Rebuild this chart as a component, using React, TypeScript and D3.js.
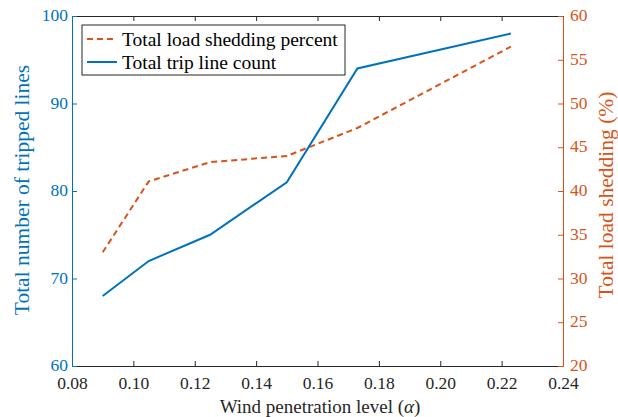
import React, { useEffect, useRef } from 'react';
import * as d3 from 'd3';

// Wind penetration levels and both series
const windLevels = [0.09, 0.105, 0.125, 0.15, 0.173, 0.223];
const tripLineCount = [68, 72, 75, 81, 94, 98];
const loadSheddingPercent = [33, 41.1, 43.3, 44, 47.2, 56.5];

const xTicks = [0.08, 0.1, 0.12, 0.14, 0.16, 0.18, 0.2, 0.22, 0.24];
const leftTicks = [60, 70, 80, 90, 100];
const rightTicks = [20, 25, 30, 35, 40, 45, 50, 55, 60];

const BLUE = '#0072BD';
const ORANGE = '#D95319';
const GREY = '#262626';
const FONT = 'Times New Roman, Times, Tinos, Liberation Serif, Noto Serif, DejaVu Serif, serif';

function App() {
  const svgRef = useRef<SVGSVGElement>(null);

  useEffect(() => {
    const svg = d3.select(svgRef.current);
    svg.selectAll('*').remove();

    const width = 618;
    const height = 417;
    const margin = { top: 16, right: 55, bottom: 51, left: 72 };
    const innerW = width - margin.left - margin.right;
    const innerH = height - margin.top - margin.bottom;

    const g = svg.append('g').attr('transform', `translate(${margin.left},${margin.top})`);

    const x = d3.scaleLinear().domain([0.08, 0.24]).range([0, innerW]);
    const yL = d3.scaleLinear().domain([60, 100]).range([innerH, 0]);
    const yR = d3.scaleLinear().domain([20, 60]).range([innerH, 0]);

    const tickLen = 5;
    const tickFont = 17.5;

    // bottom axis
    const xAxis = g.append('g').attr('transform', `translate(0,${innerH})`)
      .call(d3.axisBottom(x).tickValues(xTicks).tickFormat(d3.format('.2f')).tickSizeInner(-tickLen).tickSizeOuter(0).tickPadding(11));
    xAxis.select('.domain').attr('stroke', GREY);
    xAxis.selectAll('.tick line').attr('stroke', GREY);
    xAxis.attr('font-family', FONT).attr('font-size', 17.5);
    xAxis.selectAll('text').attr('fill', GREY);

    // top axis (ticks only)
    const topAxis = g.append('g')
      .call(d3.axisTop(x).tickValues(xTicks).tickFormat(() => '').tickSizeInner(-tickLen).tickSizeOuter(0));
    topAxis.select('.domain').attr('stroke', GREY);
    topAxis.selectAll('.tick line').attr('stroke', GREY);

    // left axis
    const leftAxis = g.append('g')
      .call(d3.axisLeft(yL).tickValues(leftTicks).tickSizeInner(-tickLen).tickSizeOuter(0).tickPadding(4));
    leftAxis.select('.domain').attr('stroke', BLUE);
    leftAxis.selectAll('.tick line').attr('stroke', BLUE);
    leftAxis.attr('font-family', FONT).attr('font-size', tickFont);
    leftAxis.selectAll('text').attr('fill', BLUE).attr('dy', '0.26em');

    // right axis
    const rightAxis = g.append('g').attr('transform', `translate(${innerW},0)`)
      .call(d3.axisRight(yR).tickValues(rightTicks).tickSizeInner(-tickLen).tickSizeOuter(0).tickPadding(7));
    rightAxis.select('.domain').attr('stroke', ORANGE);
    rightAxis.selectAll('.tick line').attr('stroke', ORANGE);
    rightAxis.attr('font-family', FONT).attr('font-size', tickFont);
    rightAxis.selectAll('text').attr('fill', ORANGE).attr('dy', '0.26em');

    // lines
    const blueLine = d3.line<number>().x((_, i) => x(windLevels[i])).y(d => yL(d));
    const orangeLine = d3.line<number>().x((_, i) => x(windLevels[i])).y(d => yR(d));

    g.append('path').datum(loadSheddingPercent)
      .attr('d', orangeLine).attr('fill', 'none').attr('stroke', ORANGE)
      .attr('stroke-width', 2).attr('stroke-dasharray', '6,4');

    g.append('path').datum(tripLineCount)
      .attr('d', blueLine).attr('fill', 'none').attr('stroke', BLUE)
      .attr('stroke-width', 2);

    // legend
    const leg = g.append('g').attr('transform', 'translate(10,9)');
    leg.append('rect').attr('width', 263).attr('height', 50)
      .attr('fill', 'white').attr('stroke', GREY).attr('stroke-width', 1);
    const items = [
      { label: 'Total load shedding percent', color: ORANGE, dash: '6,4' },
      { label: 'Total trip line count', color: BLUE, dash: null },
    ];
    items.forEach((it, i) => {
      const yy = 14 + i * 23;
      leg.append('line').attr('x1', 5).attr('x2', 35).attr('y1', yy).attr('y2', yy)
        .attr('stroke', it.color).attr('stroke-width', 2)
        .attr('stroke-dasharray', it.dash);
      leg.append('text').attr('x', 40).attr('y', yy + 7)
        .attr('font-family', FONT).attr('font-size', 19.5).attr('fill', '#000')
        .text(it.label);
    });

    // axis labels
    const xl = svg.append('text').attr('x', 320).attr('y', 413)
      .attr('text-anchor', 'middle').attr('font-family', FONT).attr('font-size', 19).attr('fill', GREY);
    xl.append('tspan').text('Wind penetration level (');
    xl.append('tspan').attr('font-style', 'italic').text('α');
    xl.append('tspan').text(')');

    svg.append('text')
      .attr('transform', `translate(29,190) rotate(-90)`)
      .attr('text-anchor', 'middle').attr('font-family', FONT).attr('font-size', 21.5).attr('fill', BLUE)
      .text('Total number of tripped lines');

    svg.append('text')
      .attr('transform', `translate(613,195) rotate(-90)`)
      .attr('text-anchor', 'middle').attr('font-family', FONT).attr('font-size', 21.5).attr('fill', ORANGE)
      .text('Total load shedding (%)');
  }, []);

  return (
    <svg ref={svgRef} width={618} height={417}
      style={{ position: 'absolute', left: 0, top: 0, background: 'white' }} />
  );
}

export default App;
